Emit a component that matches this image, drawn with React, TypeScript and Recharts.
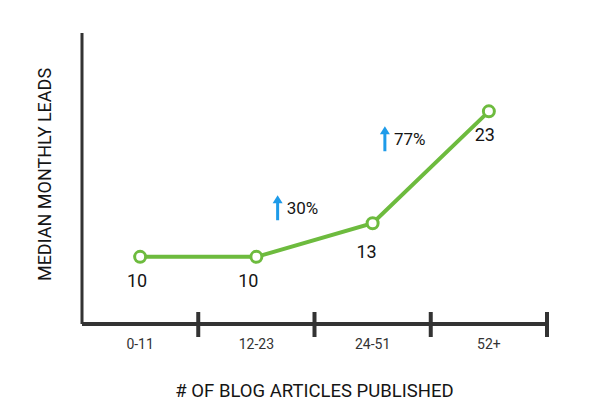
import React from 'react';
import { LineChart, Line, XAxis, YAxis } from 'recharts';

const categories = ['0-11', '12-23', '24-51', '52+'];
const leads = [10, 10, 13, 23];
// growth callouts, attached to the point the growth leads to
const growthIndex = [2, 3];
const growthText = ['30%', '77%'];

const data = categories.map((cat, i) => ({ cat, leads: leads[i] }));

const GREEN = '#6dbb3e';
const AXIS = '#333333';
const BLUE = '#1e9be9';
const INK = '#151515';
const FONT = 'Roboto, "Noto Sans", sans-serif';

// where each callout sits relative to its point
const growthOffset = [
  { dx: -95, dy: -15 },
  { dx: -104, dy: 28 },
];
// value label nudges
const labelOffset = [
  { dx: -3, dy: 24 },
  { dx: -8, dy: 24 },
  { dx: -6, dy: 28 },
  { dx: -4, dy: 23 },
];

const BandTick = (props: any) => {
  const { x, y, payload, index, width, visibleTicksCount } = props;
  const bw = (width || 465) / (visibleTicksCount || 4);
  const left = x - bw / 2;
  const right = x + bw / 2;
  const axisY = y - 8;
  return (
    <g>
      {index > 0 && (
        <line x1={left} x2={left} y1={axisY - 12} y2={axisY + 13} stroke={AXIS} strokeWidth={4} />
      )}
      {index === categories.length - 1 && (
        <line x1={right} x2={right} y1={axisY - 12} y2={axisY + 13} stroke={AXIS} strokeWidth={4} />
      )}
      <text x={x} y={axisY + 25} textAnchor="middle" fill={AXIS} fontSize={14} fontFamily={FONT}>
        {payload.value}
      </text>
    </g>
  );
};

const ValueLabel = (props: any) => {
  const { x, y, value, index } = props;
  const off = labelOffset[index] || { dx: 0, dy: 24 };
  const g = growthIndex.indexOf(index);
  return (
    <g>
      <text
        x={x + off.dx}
        y={y + off.dy}
        textAnchor="middle"
        dominantBaseline="central"
        fill={INK}
        fontSize={18}
        fontFamily={FONT}
      >
        {value}
      </text>
      {g >= 0 && (
        <g transform={`translate(${x + growthOffset[g].dx}, ${y + growthOffset[g].dy})`}>
          <path d="M0,-13 L5,-5 L1.5,-5 L1.5,12 L-1.5,12 L-1.5,-5 L-5,-5 Z" fill={BLUE} />
          <text x={9} y={0} dominantBaseline="central" fill={INK} fontSize={17} fontFamily={FONT}>
            {growthText[g]}
          </text>
        </g>
      )}
    </g>
  );
};

export default function App() {
  return (
    <div style={{ position: 'absolute', left: 0, top: 0, width: 592, height: 413, background: '#fff' }}>
      <LineChart width={592} height={413} data={data} margin={{ top: 33, right: 45, bottom: 0, left: 0 }}>
        <XAxis
          dataKey="cat"
          scale="band"
          height={89}
          axisLine={{ stroke: AXIS, strokeWidth: 4 }}
          tickLine={false}
          tick={<BandTick />}
          interval={0}
          label={{
            value: '# OF BLOG ARTICLES PUBLISHED',
            position: 'insideBottom',
            offset: 16,
            fill: INK,
            fontSize: 18.5,
            fontFamily: FONT,
          }}
        />
        <YAxis
          width={82}
          domain={[4, 30]}
          tick={false}
          tickLine={false}
          axisLine={{ stroke: AXIS, strokeWidth: 3 }}
          label={{
            value: 'MEDIAN MONTHLY LEADS',
            angle: -90,
            position: 'insideLeft',
            offset: 45,
            dy: -4,
            style: { textAnchor: 'middle' },
            fill: INK,
            fontSize: 18,
            fontFamily: FONT,
          }}
        />
        <Line
          dataKey="leads"
          type="linear"
          stroke={GREEN}
          strokeWidth={4}
          dot={{ r: 5.5, stroke: GREEN, strokeWidth: 3, fill: '#fff' }}
          activeDot={false}
          label={<ValueLabel />}
          isAnimationActive={false}
        />
      </LineChart>
    </div>
  );
}
